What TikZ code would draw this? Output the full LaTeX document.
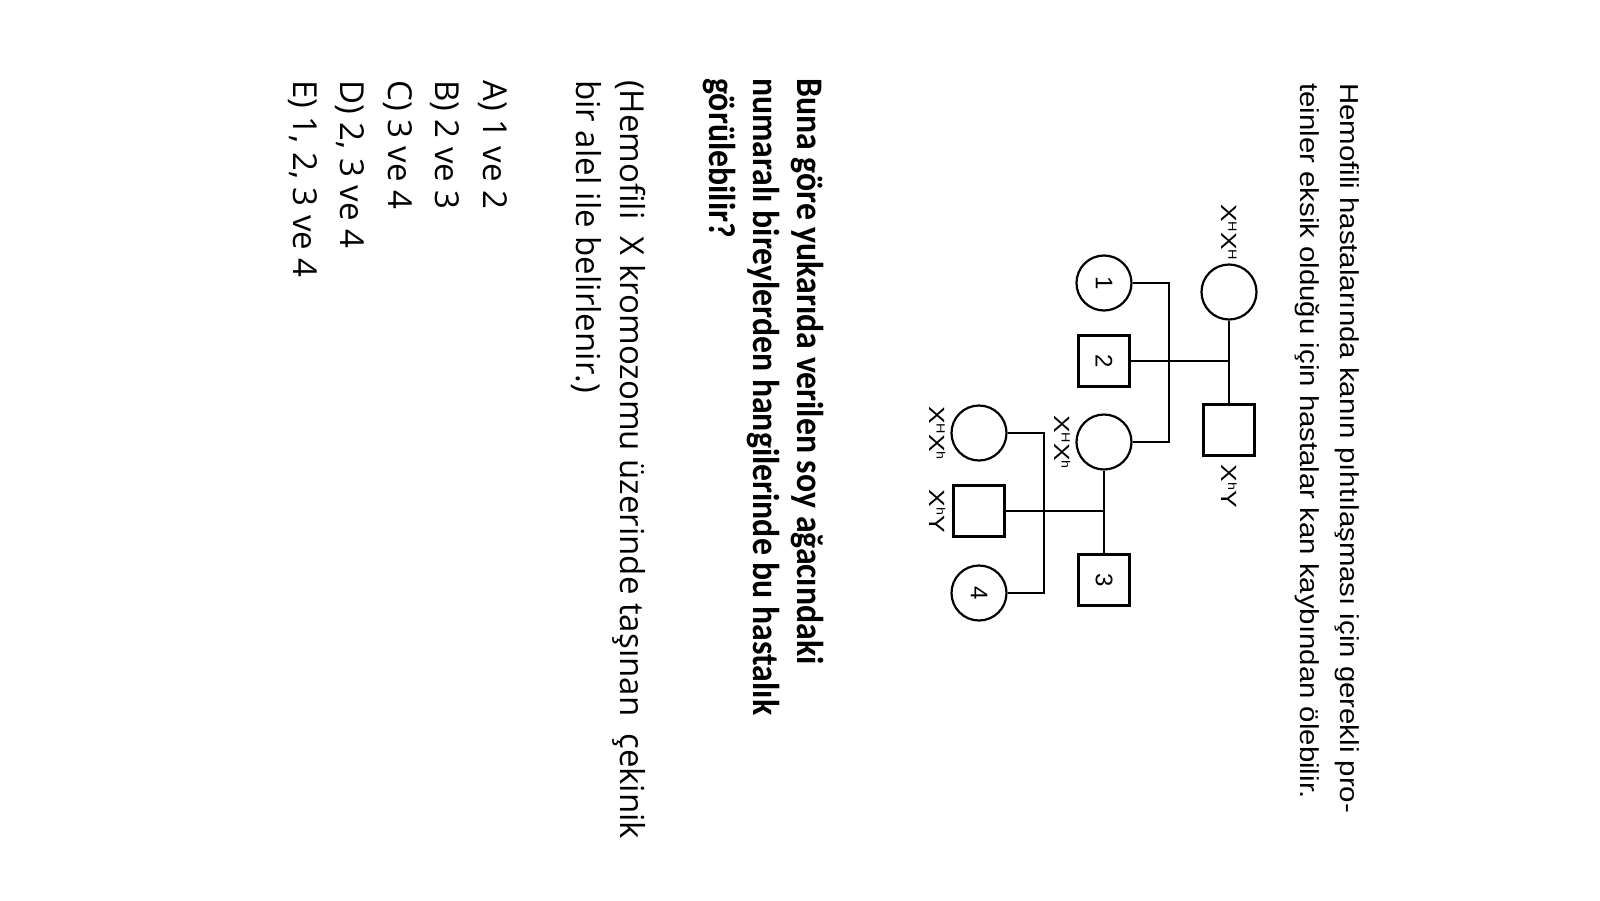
\documentclass[tikz,border=0pt]{standalone}
\usepackage{fontspec}
\setmainfont{Liberation Sans}
\newfontfamily\qfont{Carlito}
\newfontfamily\optfont{Open Sans}
\usetikzlibrary{calc}
% genotype: X with a raised allele letter
\newcommand{\gX}[1]{X\raisebox{7pt}{\fontsize{12}{12}\selectfont #1}}
% horizontally stretched or narrowed text
\newcommand{\stretchtxt}[2]{\scalebox{#1}[1]{#2}}

\tikzset{
  pline/.style={line width=2.2pt},
  female/.style={circle, draw, line width=2.2pt, minimum size=55pt, inner sep=0pt, font=\fontsize{24}{24}\selectfont},
  male/.style={rectangle, draw, line width=2.2pt, minimum size=51pt, inner sep=0pt, font=\fontsize{24}{24}\selectfont},
  geno/.style={font=\fontsize{22}{22}\selectfont, inner sep=1pt},
  introtxt/.style={anchor=base west, inner sep=0pt, font=\fontsize{26}{30}\selectfont},
  qtxt/.style={anchor=base west, inner sep=0pt, font=\qfont\bfseries\fontsize{37.5}{44}\selectfont},
  notetxt/.style={anchor=base west, inner sep=0pt, font=\optfont\fontsize{33}{36}\selectfont},
  opttxt/.style={anchor=base west, inner sep=0pt, font=\optfont\fontsize{33}{36}\selectfont},
}

\begin{document}
\begin{tikzpicture}[x=1pt,y=1pt]
\begin{scope}[rotate=-90, transform shape]
\useasboundingbox[fill=white] (0,0) rectangle (900,1600);

% Text Node
\node (intro1) [introtxt] at (83,1340) {\stretchtxt{1.13}{Hemofili hastalarında kanın pıhtılaşması için gerekli pro-}};
% Text Node
\node (intro2) [introtxt] at (83,1300) {\stretchtxt{1.13}{teinler eksik olduğu için hastalar kan kaybından ölebilir.}};

%Pedigree: first generation
\node (m) [female] at (292,1229) {};
\node (f) [male] at (430,1229) {};
\node (mg) [geno, anchor=east] at ($(m.west)+(-2,0)$) {\stretchtxt{1.2}{\gX{H}\gX{H}}};
\node (fg) [geno, anchor=west] at ($(f.east)+(7,0)$) {\stretchtxt{1.2}{\gX{h}Y}};
\draw [pline] (m) -- (f);
\coordinate (d1) at ($(m)!0.5!(f)$);

%Pedigree: second generation
\node (c1) [female] at (283,1104) {1};
\node (s2) [male] at (361,1104) {2};
\node (d) [female] at (442,1104) {};
\node (s3) [male] at (580,1104) {3};
\node (dg) [geno, anchor=north] at ($(d.south)+(0,-4)$) {\stretchtxt{1.2}{\gX{H}\gX{h}}};
\draw [pline] (d1) -- (s2);
\draw [pline] (c1.north) -- ++(0,36) -| (d.north);
\draw [pline] (d) -- (s3);
\coordinate (d2) at ($(d)!0.5!(s3)$);

%Pedigree: third generation
\node (g1) [female] at (433,979) {};
\node (g2) [male] at (511,979) {};
\node (c4) [female] at (593,979) {4};
\node (g1g) [geno, anchor=north] at ($(g1.south)+(0,-4)$) {\stretchtxt{1.2}{\gX{H}\gX{h}}};
\node (g2g) [geno, anchor=north] at ($(g2.south)+(0,-6)$) {\stretchtxt{1.2}{\gX{h}Y}};
\draw [pline] (d2) -- (g2);
\draw [pline] (g1.north) -- ++(0,36) -| (c4.north);

% Text Node
\node (q1) [qtxt] at (78,797) {\stretchtxt{0.9}{Buna göre yukarıda verilen soy ağacındaki}};
\node (q2) [qtxt] at (78,753) {\stretchtxt{0.9}{numaralı bireylerden hangilerinde bu hastalık}};
\node (q3) [qtxt] at (78,709) {\stretchtxt{0.9}{görülebilir?}};

% Text Node
\node (n1) [notetxt] at (80,620) {(Hemofili\ \ X kromozomu üzerinde taşınan\ \ çekinik};
\node (n2) [notetxt] at (80,576) {bir alel ile belirlenir.)};

% Text Node
\foreach \opt [count=\i from 0] in {{A) 1 ve 2}, {B) 2 ve 3}, {C) 3 ve 4}, {D) 2, 3 ve 4}, {E) 1, 2, 3 ve 4}}
  \node (opt\i) [opttxt] at (80,483-47.5*\i) {\opt};

\end{scope}
\end{tikzpicture}
\end{document}
